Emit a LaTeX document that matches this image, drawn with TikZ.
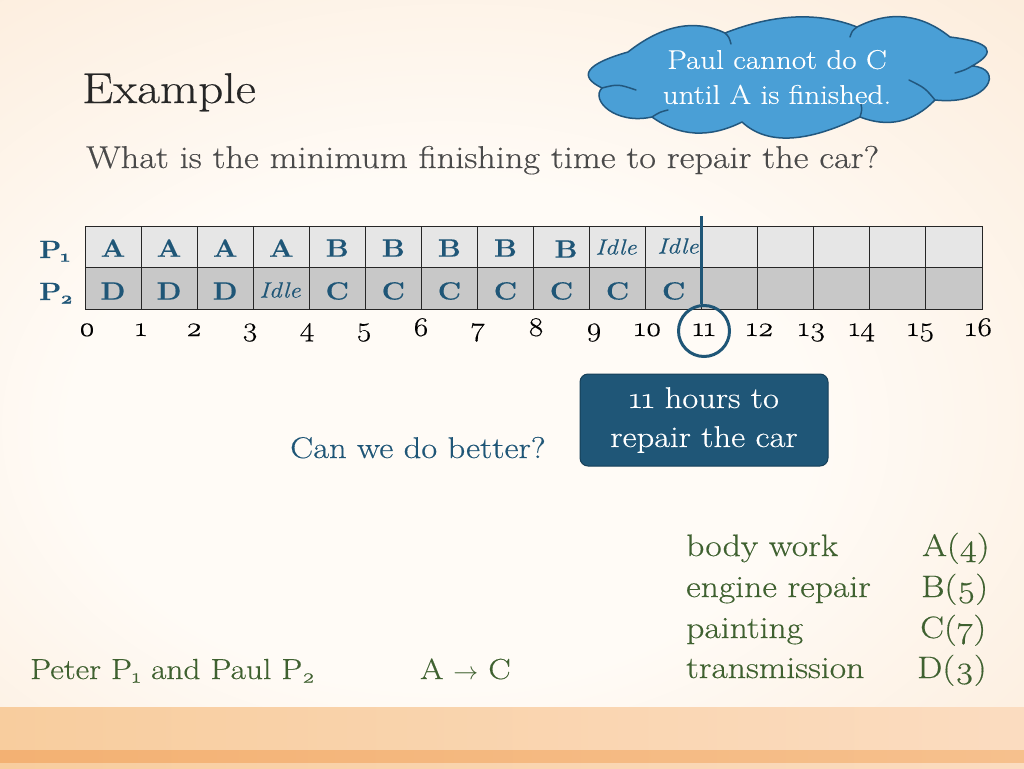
\documentclass[tikz,border=0pt]{standalone}
\usepackage{fontspec}
\setmainfont{Latin Modern Roman}[Numbers=OldStyle, FakeStretch=1.15, FakeBold=0.4]
\definecolor{bgin}{HTML}{FFFBF6}
\definecolor{bgout}{HTML}{F9DDC0}
\definecolor{teal}{HTML}{1F5677}
\definecolor{tealdk}{HTML}{163F58}
\definecolor{grn}{HTML}{3F6130}
\definecolor{cloudfill}{HTML}{4A9FD6}
\definecolor{cloudline}{HTML}{22577E}
\definecolor{rowa}{HTML}{E6E6E6}
\definecolor{rowb}{HTML}{C8C8C8}
\definecolor{qgrey}{HTML}{4A4A4A}
\definecolor{banda}{HTML}{F8CD9E}
\definecolor{bandb}{HTML}{FBDCC0}
\definecolor{stripa}{HTML}{F3B173}
\definecolor{stripb}{HTML}{F6C08D}
\pgfdeclareradialshading{bgshade}{\pgfpoint{-5bp}{-8bp}}{color(0bp)=(bgin); color(18bp)=(bgin); color(62bp)=(bgout)}
\tikzset{
  cell/.style={font=\fontsize{25}{27}\selectfont\bfseries, text=teal, inner sep=0pt},
  idle/.style={font=\fontsize{22}{24}\selectfont\itshape, text=teal, inner sep=0pt},
  num/.style={font=\fontsize{27}{29}\selectfont, text=black, anchor=base, inner sep=0pt},
  lst/.style={font=\fontsize{31}{33}\selectfont, text=grn, anchor=base west, inner sep=0pt},
  cloudedge/.style={draw=cloudline, line width=1.5pt, line join=round, line cap=round},
}
\begin{document}
\begin{tikzpicture}[x=1pt,y=-1pt]
\useasboundingbox (0,0) rectangle (1024,768);
% background
\shade[shading=bgshade] (0,0) rectangle (1024,707);
\shade[left color=banda, right color=bandb] (0,707) rectangle (1024,768);
\shade[left color=stripa, right color=stripb] (0,750) rectangle (1024,762);
% title
\node[anchor=base west, inner sep=0pt, font=\fontsize{43}{45}\selectfont, text=black!85] (title) at (82,103) {Example};
\node[anchor=base west, inner sep=0pt, font=\fontsize{31.5}{33}\selectfont, text=qgrey] (question) at (86,168) {What is the minimum finishing time to repair the car?};
% cloud
\path[cloudedge, fill=cloudfill]
  (602,88) .. controls (577.3,76) and (586,64) .. (628,52)
  .. controls (662.3,25) and (694.7,18.7) .. (725,33)
  .. controls (774.3,13.7) and (818.3,11.7) .. (857,27)
  .. controls (890,10.3) and (921,13.7) .. (950,37)
  .. controls (990.7,42) and (998,51.7) .. (972,66)
  .. controls (1005,68) and (990,106) .. (935,100)
  .. controls (913.3,122.3) and (888.3,128) .. (860,117)
  .. controls (806,143.3) and (766.7,145) .. (742,122)
  .. controls (709.3,138.3) and (679.3,136.7) .. (652,117)
  .. controls (615,125) and (590,100) .. (602,88) -- cycle;
\draw[cloudedge] (602,88) .. controls (618,84) .. (636,90);
\draw[cloudedge] (725,33) .. controls (729,37) .. (731,44);
\draw[cloudedge] (857,27) .. controls (852,31) .. (850,37);
\draw[cloudedge] (972,66) .. controls (965,70) .. (955,73);
\draw[cloudedge] (935,100) .. controls (925,88) .. (909,80);
\draw[cloudedge] (860,117) .. controls (862,110) .. (861,104);
\draw[cloudedge] (652,117) .. controls (660,112) .. (668,110);
\node[text=white, align=center, font=\fontsize{27}{35}\selectfont, inner sep=0pt] (cloudtext) at (777,77)
      {Paul cannot do C\\until A is finished.};
% table
\fill[rowa] (85,226) rectangle (982,267);
\fill[rowb] (85,267) rectangle (982,309);
\draw[black!85, line width=1pt] (85,226) rectangle (982,309);
\draw[black!85, line width=1pt] (85,267) -- (982,267);
\foreach \i in {1,...,15} {
  \draw[black!85, line width=1pt] ({85+\i*56.0625},226) -- ({85+\i*56.0625},309);
}
% row 1
\foreach \i/\t in {0/A,1/A,2/A,3/A,4/B,5/B,6/B,7/B} {
  \node[cell] (p1c\i) at ({85+(\i+0.5)*56.0625},248) {\t};
}
\node[cell] (p1c8) at (566,249) {B};
\node[idle] (p1c9) at (616,247) {Idle};
\node[idle] (p1c10) at (678,246) {Idle};
% row 2
\foreach \i/\t in {0/D,1/D,2/D,4/C,5/C,6/C,7/C,8/C,9/C,10/C} {
  \node[cell] (p2c\i) at ({85+(\i+0.5)*56.0625},291) {\t};
}
\node[idle] (p2c3) at (280,290) {Idle};
% row labels
\node[anchor=base west, inner sep=0pt, text=teal, font=\fontsize{25}{27}\selectfont\bfseries] (lp1) at (39,258) {P\kern-1pt\textsubscript{1}};
\node[anchor=base west, inner sep=0pt, text=teal, font=\fontsize{25}{27}\selectfont\bfseries] (lp2) at (39,300) {P\kern-1pt\textsubscript{2}};
% numbers
\foreach \n/\x in {0/87,1/141,2/194,3/250,4/307,5/364,6/421,7/478,8/536,9/594,10/648,11/704,12/760,13/812,14/862,15/921,16/979} {
  \node[num] (n\n) at (\x,336) {\n};
}
% marker
\node[circle, draw=teal, line width=3pt, minimum size=51pt, inner sep=0pt] (ring) at (704,331) {};
\coordinate (mtop) at (701,216);
\draw[teal, line width=3pt] (mtop) -- (ring.north -| mtop);
% box
\node[draw=tealdk, line width=1pt, fill=teal, rounded corners=8pt, minimum width=248pt, minimum height=92pt,
      text=white, align=center, font=\fontsize{30}{39}\selectfont, inner sep=0pt] (hours) at (704,420)
      {11 hours to\\repair the car};
\node[anchor=base west, inner sep=0pt, text=teal, font=\fontsize{30}{32}\selectfont] (better) at (290,458) {Can we do better?};
% list
\node[lst] (l1) at (686,556) {body work};
\node[lst] (l2) at (686,597) {engine repair};
\node[lst] (l3) at (686,638) {painting};
\node[lst] (l4) at (686,678) {transmission};
\node[lst] (v1) at (922,556) {A(4)};
\node[lst] (v2) at (921,597) {B(5)};
\node[lst] (v3) at (920,638) {C(7)};
\node[lst] (v4) at (917,678) {D(3)};
\node[lst, font=\fontsize{29}{31}\selectfont] (peter) at (30,679) {Peter P\textsubscript{1} and Paul P\textsubscript{2}};
\node[lst, font=\fontsize{29}{31}\selectfont] (prec) at (420,679) {A $\rightarrow$ C};
\end{tikzpicture}
\end{document}
